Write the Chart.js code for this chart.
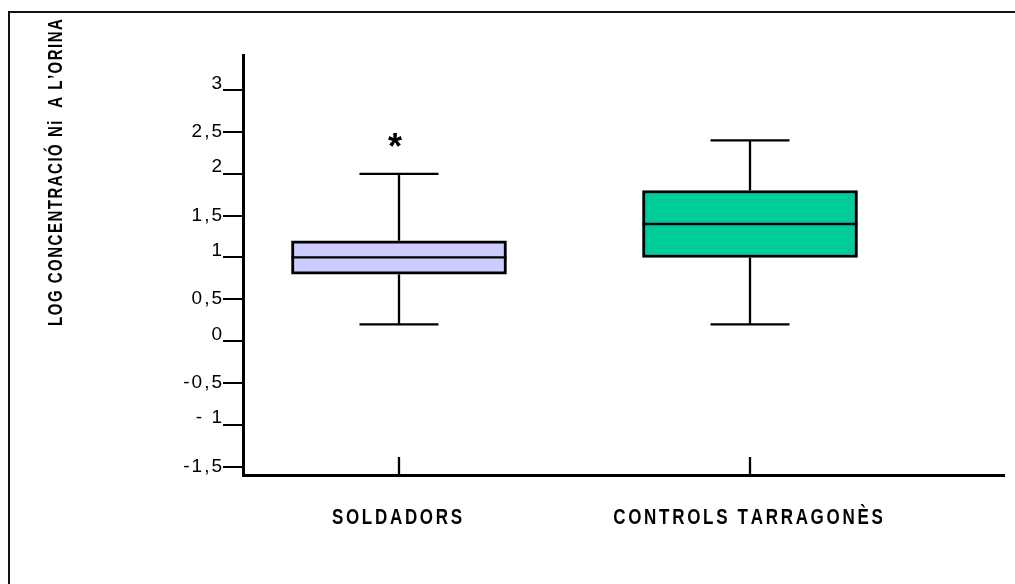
<!DOCTYPE html>
<html>
<head>
<meta charset="utf-8">
<script src="https://cdn.jsdelivr.net/npm/chart.js@4/dist/chart.umd.min.js"></script>
<style>
  html, body { margin: 0; padding: 0; background: #fff; }
  #wrap { width: 1015px; height: 584px; position: relative; }
</style>
</head>
<body>
<div id="wrap"><canvas id="c" width="1015" height="584"></canvas></div>
<script>
// Box-plot summaries for log urinary nickel
const groups = ['SOLDADORS', 'CONTROLS TARRAGONÈS'];
const groupPos = [1, 2];
const whiskerLow = [0.2, 0.2];
const quartile1 = [0.8, 1.0];
const medians = [1.0, 1.4];
const quartile3 = [1.2, 1.8];
const whiskerHigh = [2.0, 2.4];
const outliers = [[2.4], []];
const boxColors = ['#ccccff', '#00cc99'];

// Value axis ticks and their printed labels
const yTickValues = [3, 2.5, 2, 1.5, 1, 0.5, 0, -0.5, -1, -1.5];
const yTickLabels = ['3', '2,5', '2', '1,5', '1', '0,5', '0', '-0,5', '- 1', '-1,5'];
const yTitle = 'LOG CONCENTRACIÓ Ni  A L\u2019ORINA';

const FONT = '"Liberation Sans", Arial, Helvetica, sans-serif';

// Draw text with extra tracking between letters; sy stretches glyphs vertically
function spacedText(ctx, text, x, y, align, ls, sy) {
  sy = sy || 1;
  ctx.save();
  ctx.translate(x, y);
  ctx.scale(1, sy);
  ctx.textAlign = 'left';
  let w = 0;
  for (const ch of text) w += ctx.measureText(ch).width;
  w += ls * (text.length - 1);
  let cx = align === 'center' ? -w / 2 : align === 'right' ? -w : 0;
  for (const ch of text) {
    ctx.fillText(ch, cx, 0);
    cx += ctx.measureText(ch).width + ls;
  }
  ctx.restore();
}

const boxDecor = {
  id: 'boxDecor',
  beforeDraw(chart) {
    const ctx = chart.ctx;
    ctx.save();
    ctx.fillStyle = '#fff';
    ctx.fillRect(0, 0, chart.width, chart.height);
    // outer frame
    ctx.strokeStyle = '#111';
    ctx.lineWidth = 2;
    ctx.beginPath();
    ctx.moveTo(9, chart.height + 2);
    ctx.lineTo(9, 12);
    ctx.lineTo(chart.width + 2, 12);
    ctx.stroke();
    ctx.restore();
  },
  afterDatasetsDraw(chart) {
    const ctx = chart.ctx;
    const xs = chart.scales.x;
    const ys = chart.scales.y;
    const capHalf = 39.5;
    ctx.save();
    ctx.strokeStyle = '#000';
    ctx.lineWidth = 2.3;
    ctx.lineCap = 'butt';
    groups.forEach((g, i) => {
      const x = xs.getPixelForValue(groupPos[i]);
      const yMin = ys.getPixelForValue(whiskerLow[i]);
      const yQ1 = ys.getPixelForValue(quartile1[i]);
      const yMed = ys.getPixelForValue(medians[i]);
      const yQ3 = ys.getPixelForValue(quartile3[i]);
      const yMax = ys.getPixelForValue(whiskerHigh[i]);
      const meta = chart.getDatasetMeta(0).data[i];
      const half = meta.width / 2;
      ctx.beginPath();
      // whiskers
      ctx.moveTo(x, yQ3); ctx.lineTo(x, yMax);
      ctx.moveTo(x, yQ1); ctx.lineTo(x, yMin);
      // caps
      ctx.moveTo(x - capHalf, yMax); ctx.lineTo(x + capHalf, yMax);
      ctx.moveTo(x - capHalf, yMin); ctx.lineTo(x + capHalf, yMin);
      // median
      ctx.moveTo(x - half, yMed); ctx.lineTo(x + half, yMed);
      ctx.stroke();

      // outliers marked with an asterisk
      ctx.fillStyle = '#000';
      ctx.font = 'bold 36px ' + FONT;
      ctx.textAlign = 'center';
      ctx.textBaseline = 'alphabetic';
      outliers[i].forEach(v => {
        const py = ys.getPixelForValue(v);
        const m = ctx.measureText('*');
        const inkMid = (m.actualBoundingBoxAscent - m.actualBoundingBoxDescent) / 2;
        ctx.fillText('*', x - 4, py + inkMid);
      });

      // inner tick on the category axis
      ctx.beginPath();
      ctx.moveTo(x, chart.chartArea.bottom);
      ctx.lineTo(x, chart.chartArea.bottom - 18);
      ctx.stroke();

      // category name
      ctx.font = 'bold 17px ' + FONT;
      ctx.textBaseline = 'alphabetic';
      spacedText(ctx, g, x - 2, chart.chartArea.bottom + 49, 'center', 2.7, 1.3);
    });

    // value-axis tick labels
    ctx.fillStyle = '#000';
    ctx.font = '19px ' + FONT;
    ctx.textBaseline = 'alphabetic';
    yTickValues.forEach((v, k) => {
      const py = ys.getPixelForValue(v);
      const whole = Number.isInteger(v);
      const by = whole ? py - 1.5 : py + 5;
      spacedText(ctx, yTickLabels[k], chart.chartArea.left - 21, by, 'right', 2);
    });

    // rotated axis title
    ctx.save();
    ctx.translate(62, 172.5);
    ctx.rotate(-Math.PI / 2);
    ctx.font = 'bold 15px ' + FONT;
    ctx.textBaseline = 'alphabetic';
    spacedText(ctx, yTitle, 0, 0, 'center', 1.5, 1.35);
    ctx.restore();

    ctx.restore();
  }
};

new Chart(document.getElementById('c').getContext('2d'), {
  type: 'bar',
  data: {
    datasets: [{
      data: groupPos.map((p, i) => ({ x: p, y: [quartile1[i], quartile3[i]] })),
      backgroundColor: boxColors,
      borderColor: '#000',
      borderWidth: 3,
      borderSkipped: false,
      barThickness: 215
    }]
  },
  options: {
    responsive: false,
    animation: false,
    devicePixelRatio: 1,
    layout: { padding: { left: 223, top: 55, right: 11, bottom: 109 } },
    plugins: { legend: { display: false }, tooltip: { enabled: false } },
    scales: {
      x: {
        type: 'linear',
        offset: false,
        min: 0.5556,
        max: 2.7236,
        grid: { display: true, drawOnChartArea: false, drawTicks: false, offset: false },
        ticks: { display: false },
        border: { display: true, color: '#000', width: 3 },
        afterFit(s) { s.height = 0; }
      },
      y: {
        min: -1.6,
        max: 3.42,
        afterBuildTicks(s) { s.ticks = yTickValues.map(v => ({ value: v })); },
        grid: { display: true, drawOnChartArea: false, drawTicks: true, tickLength: 20, color: '#000', lineWidth: 2 },
        ticks: { display: false },
        border: { display: true, color: '#000', width: 3 },
        afterFit(s) { s.width = 20; }
      }
    }
  },
  plugins: [boxDecor]
});
</script>
</body>
</html>
